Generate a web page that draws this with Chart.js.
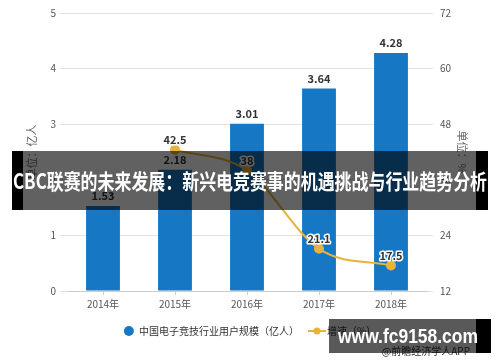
<!DOCTYPE html>
<html>
<head>
<meta charset="utf-8">
<script src="https://cdn.jsdelivr.net/npm/chart.js@4.4.1/dist/chart.umd.min.js"></script>
<style>
  html, body { margin: 0; padding: 0; background: #fff; }
  #wrap { position: relative; width: 500px; height: 362px; font-family: "Noto Sans CJK SC", sans-serif; }
  #grafico { position: absolute; left: 0; top: 0; }
  #fuente { position: absolute; right: 30px; top: 344px; font-size: 10px; color: #333; line-height: 14px; }
  #banner { position: absolute; left: 12px; top: 151px; width: 476px; height: 59px; background: rgba(0,0,0,0.62); overflow: hidden; }
  #banner .negro { position: absolute; top: 0; bottom: 0; background: #000; }
  #banner span { position: absolute; left: 1px; top: 17px; white-space: nowrap; color: #fff; font-weight: bold; font-size: 21px; line-height: 24px; transform-origin: 0 0; }
  #marca { position: absolute; left: 329px; top: 319px; width: 162px; height: 34px; background: rgba(0,0,0,0.65); }
  #marca .negro { position: absolute; right: 0; top: 0; width: 15px; height: 34px; background: #000; }
  #marca span { position: absolute; left: 9px; top: 5px; white-space: nowrap; color: #fff; font-weight: bold; font-size: 20px; line-height: 24px; font-family: "Liberation Sans", sans-serif; transform-origin: 0 0; }
</style>
</head>
<body>
<div id="wrap">
  <canvas id="grafico" width="500" height="362"></canvas>
  <div id="fuente">@前瞻经济学人APP</div>
  <div id="banner"><div class="negro" style="left:0;width:11px"></div><div class="negro" style="right:0;width:12px"></div><span id="bannerTxt">CBC联赛的未来发展：新兴电竞赛事的机遇挑战与行业趋势分析</span></div>
  <div id="marca"><div class="negro"></div><span id="marcaTxt">www.fc9158.com</span></div>
</div>
<script>
// datos
const anios = ['2014年', '2015年', '2016年', '2017年', '2018年'];
const usuarios = [1.53, 2.18, 3.01, 3.64, 4.28];
const crecimiento = [null, 42.5, 38, 21.1, 17.5];

const azul = '#1677c4';
const amarillo = '#e6b43c';

Chart.defaults.font.family = '"Noto Sans CJK SC", sans-serif';
Chart.defaults.color = '#555';

// marca de leyenda para la línea
const marcaLinea = document.createElement('canvas');
marcaLinea.width = 18; marcaLinea.height = 8;
const m = marcaLinea.getContext('2d');
m.strokeStyle = amarillo; m.lineWidth = 2;
m.beginPath(); m.moveTo(0, 4); m.lineTo(18, 4); m.stroke();
m.fillStyle = amarillo;
m.beginPath(); m.arc(9, 4, 3.5, 0, Math.PI * 2); m.fill();

// etiquetas de valores
const etiquetas = {
  id: 'etiquetas',
  afterDatasetsDraw(chart) {
    const ctx = chart.ctx;
    ctx.save();
    ctx.font = 'bold 11px "Noto Sans CJK SC", sans-serif';
    ctx.textAlign = 'center';
    ctx.textBaseline = 'middle';
    chart.getDatasetMeta(0).data.forEach((bar, i) => {
      ctx.fillStyle = '#333';
      ctx.fillText(usuarios[i].toFixed(2), bar.x, bar.y - 10);
    });
    chart.getDatasetMeta(1).data.forEach((pt, i) => {
      if (crecimiento[i] == null) return;
      const t = String(crecimiento[i]);
      ctx.lineWidth = 3; ctx.strokeStyle = '#fff'; ctx.lineJoin = 'round';
      ctx.strokeText(t, pt.x, pt.y - 10);
      ctx.fillStyle = '#333';
      ctx.fillText(t, pt.x, pt.y - 10);
    });
    ctx.restore();
  }
};

new Chart(document.getElementById('grafico'), {
  type: 'bar',
  data: {
    labels: anios,
    datasets: [{
      label: '中国电子竞技行业用户规模（亿人）',
      data: usuarios,
      backgroundColor: azul,
      barPercentage: 0.47,
      categoryPercentage: 1,
      yAxisID: 'y',
      order: 1
    }, {
      type: 'line',
      label: '增速（%）',
      data: crecimiento,
      borderColor: amarillo,
      backgroundColor: amarillo,
      borderWidth: 2,
      pointRadius: 4,
      pointHoverRadius: 4,
      cubicInterpolationMode: 'monotone',
      yAxisID: 'y1',
      order: 0
    }]
  },
  options: {
    responsive: false,
    animation: false,
    layout: { padding: { top: 6, bottom: 16, left: 0, right: 0 } },
    plugins: {
      legend: {
        position: 'bottom',
        labels: {
          usePointStyle: true,
          boxWidth: 11,
          boxHeight: 7,
          padding: 13,
          color: '#333',
          font: { size: 10 },
          sort: (a, b) => a.datasetIndex - b.datasetIndex,
          generateLabels(chart) {
            const items = Chart.defaults.plugins.legend.labels.generateLabels(chart);
            items.forEach(it => {
              it.pointStyle = it.datasetIndex === 0 ? 'circle' : marcaLinea;
            });
            return items;
          }
        }
      },
      tooltip: { enabled: false }
    },
    scales: {
      x: {
        grid: { display: true, drawOnChartArea: false, offset: false, tickLength: 4, color: '#ccc' },
        border: { color: '#ccc' },
        ticks: { font: { size: 10 }, padding: 3 }
      },
      y: {
        position: 'left',
        min: 0, max: 5,
        ticks: { stepSize: 1, font: { size: 10 }, padding: 4 },
        grid: { color: '#e2e2e2', tickLength: 7 },
        border: { display: false },
        title: { display: true, text: '单位：亿人', color: '#666', font: { size: 11 }, padding: { top: 25, bottom: 0 } },
        afterFit(s) { s.width = 67; }
      },
      y1: {
        position: 'right',
        min: 12, max: 72,
        ticks: { stepSize: 12, font: { size: 10 }, padding: 7 },
        grid: { drawOnChartArea: false, color: '#e2e2e2', tickLength: 6 },
        border: { display: false },
        title: { display: true, text: '单位：%', color: '#666', font: { size: 11 }, padding: { top: 31, bottom: 0 } },
        afterFit(s) { s.width = 73; }
      }
    }
  },
  plugins: [etiquetas]
});

// ajustar anchos de los textos superpuestos
function ajustar(id, ancho) {
  const el = document.getElementById(id);
  const w = el.getBoundingClientRect().width;
  el.style.transform = 'scaleX(' + (ancho / w) + ')';
}
ajustar('bannerTxt', 474);
ajustar('marcaTxt', 140);
</script>
</body>
</html>
